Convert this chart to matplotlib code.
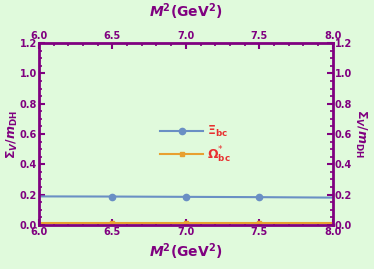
import matplotlib.pyplot as plt
from matplotlib.ticker import MultipleLocator, FormatStrFormatter

M2 = [6.0, 6.5, 7.0, 7.5, 8.0]
xi_bc = [0.188, 0.187, 0.185, 0.183, 0.180]
omega_bc = [0.011, 0.011, 0.011, 0.011, 0.011]

bg = '#e0fadc'
purple = '#800080'

fig = plt.figure(figsize=(3.74, 2.69), dpi=100, facecolor=bg)
ax = fig.add_axes([0.104, 0.164, 0.786, 0.676], facecolor=bg)

ax.plot(M2, xi_bc, color='#6a8fc4', lw=1.5, marker='o', ms=4.5,
        markevery=[1, 2, 3], label='Ξ$_{\\mathbf{bc}}$')
ax.plot(M2, omega_bc, color='#e8a030', lw=1.5, marker='s', ms=3.5,
        markevery=[1, 2, 3], label='Ω$^{*}_{\\mathbf{bc}}$')

ax.set_xlim(6.0, 8.0)
ax.set_ylim(0.0, 1.2)
ax.xaxis.set_major_locator(MultipleLocator(0.5))
ax.xaxis.set_minor_locator(MultipleLocator(0.1))
ax.yaxis.set_major_locator(MultipleLocator(0.2))
ax.yaxis.set_minor_locator(MultipleLocator(0.05))
ax.xaxis.set_major_formatter(FormatStrFormatter('%.1f'))
ax.yaxis.set_major_formatter(FormatStrFormatter('%.1f'))

for s in ax.spines.values():
    s.set_color(purple)
    s.set_linewidth(2)

ax.tick_params(which='both', direction='in', color=purple, labelcolor=purple,
               top=True, right=True, labeltop=True, labelright=True,
               labelsize=7, pad=1.5)
ax.tick_params(which='major', length=4, width=1.5)
ax.tick_params(which='minor', length=2, width=1.2)
for t in ax.xaxis.get_major_ticks() + ax.yaxis.get_major_ticks():
    t.label1.set_fontweight('bold')
    t.label2.set_fontweight('bold')

xlab = r'$\mathbfit{M}^{\mathbf{2}}\mathbf{(GeV^{2})}$'
ax.set_xlabel(xlab, color=purple, fontsize=10, labelpad=3)
fig.text(0.497, 0.955, xlab, color=purple, fontsize=10, ha='center', va='center')

ylab = r'$\mathbf{\Sigma}_{\mathbfit{V}}\mathbf{/}\mathbfit{m}_{\mathbf{DH}}$'
ax.text(-0.09, 0.5, ylab, transform=ax.transAxes, rotation=90,
        color=purple, fontsize=9, ha='center', va='center')
ax.text(1.095, 0.5, ylab, transform=ax.transAxes, rotation=-90,
        color=purple, fontsize=9, ha='center', va='center')

leg = ax.legend(loc='upper left', bbox_to_anchor=(0.375, 0.615), frameon=False,
                prop={'size': 9, 'weight': 'bold'}, handlelength=3.4,
                handletextpad=0.3, labelspacing=0.4)
for t in leg.get_texts():
    t.set_color('#e83030')

fig.savefig('out.png', dpi=100, facecolor=bg)
